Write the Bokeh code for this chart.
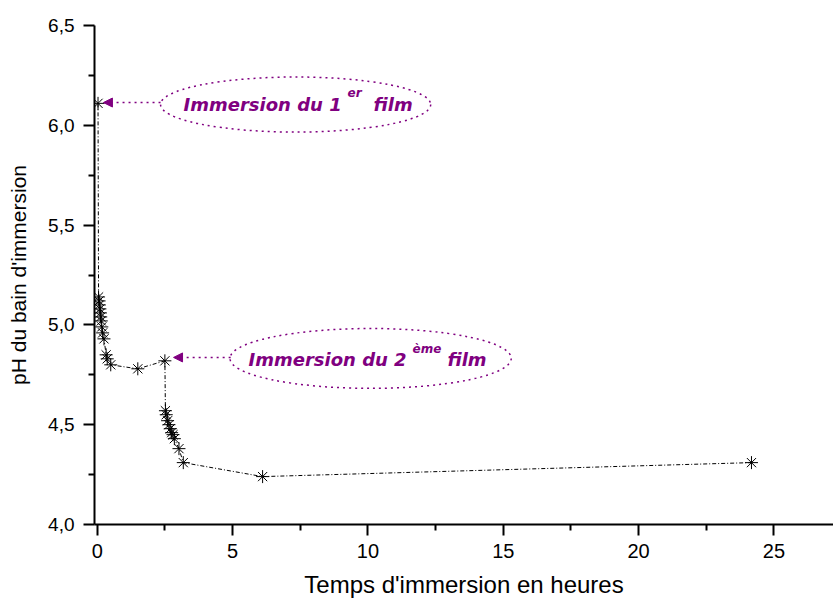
from bokeh.plotting import figure
from bokeh.models import Range1d, FixedTicker, CustomJSTickFormatter, Arrow, NormalHead, Label
from bokeh.embed import file_html
from bokeh.resources import INLINE

# ---- data ----
time_h = [0.03, 0.05, 0.07, 0.08, 0.10, 0.12, 0.13, 0.15, 0.17, 0.20, 0.25,
          0.33, 0.37, 0.50, 1.50, 2.50, 2.52, 2.55, 2.60, 2.65, 2.70, 2.75,
          2.80, 2.85, 3.02, 3.18, 6.11, 24.17]
ph = [6.11, 5.14, 5.12, 5.10, 5.08, 5.06, 5.04, 5.02, 4.99, 4.96, 4.93,
      4.85, 4.83, 4.80, 4.78, 4.82, 4.57, 4.55, 4.52, 4.50, 4.48, 4.46,
      4.45, 4.43, 4.38, 4.31, 4.24, 4.31]

x_ticks = [0, 5, 10, 15, 20, 25]
x_tick_labels = ["0", "5", "10", "15", "20", "25"]
x_minor = [2.5, 7.5, 12.5, 17.5, 22.5]
y_ticks = [4.0, 4.5, 5.0, 5.5, 6.0, 6.5]
y_tick_labels = ["4,0", "4,5", "5,0", "5,5", "6,0", "6,5"]
y_minor = [4.25, 4.75, 5.25, 5.75, 6.25]

# annotations: ellipse (center x, center y, width, height), text, arrow
ann1_ellipse = (7.33, 6.104, 9.98, 0.276)
ann1_text = ["Immersion du 1", "er", "film"]
ann1_text_pos = (3.19, 6.104, 6.164)      # x, baseline y, superscript y
ann1_text_offsets = [0, 164, 190]
ann1_arrow = (2.34, 6.114, 0.23, 6.114)

ann2_ellipse = (10.1, 4.832, 10.39, 0.30)
ann2_text = ["Immersion du 2", "ème", "film"]
ann2_text_pos = (5.59, 4.825, 4.880)
ann2_text_offsets = [0, 164, 199]
ann2_arrow = (4.93, 4.837, 2.82, 4.837)

PURPLE = "#800080"

p = figure(width=833, height=600, output_backend="svg", toolbar_location=None,
           x_range=Range1d(-0.1, 27.2), y_range=Range1d(4.0, 6.5),
           min_border_left=94, min_border_right=0, min_border_top=25,
           min_border_bottom=76)
p.outline_line_color = None
p.xgrid.visible = False
p.ygrid.visible = False
p.background_fill_color = "white"
p.border_fill_color = "white"

# data series
p.line(time_h, ph, line_color="black", line_width=1, line_dash="4 2 1 2")
p.scatter(time_h, ph, marker="asterisk", size=13, line_color="black", line_width=1)

# annotations
for ell, texts, pos, offs, arr in [
    (ann1_ellipse, ann1_text, ann1_text_pos, ann1_text_offsets, ann1_arrow),
    (ann2_ellipse, ann2_text, ann2_text_pos, ann2_text_offsets, ann2_arrow),
]:
    p.ellipse(x=[ell[0]], y=[ell[1]], width=[ell[2]], height=[ell[3]],
              fill_color=None, line_color=PURPLE, line_width=1.5,
              line_dash="2 4")
    for i, (t, off) in enumerate(zip(texts, offs)):
        p.add_layout(Label(x=pos[0], y=pos[2] if i == 1 else pos[1], x_offset=off,
                           text=t, text_color=PURPLE,
                           text_font="DejaVu Sans", text_font_style="bold italic",
                           text_font_size="12px" if i == 1 else "18px",
                           text_baseline="alphabetic", text_align="left"))
    p.add_layout(Arrow(x_start=arr[0], y_start=arr[1], x_end=arr[2], y_end=arr[3],
                       line_color=PURPLE, line_width=1.5, line_dash="2 4",
                       end=NormalHead(size=9, fill_color=PURPLE,
                                      line_color=PURPLE, line_width=1)))

# axes
for ax, ticks, labels, minor in [(p.xaxis[0], x_ticks, x_tick_labels, x_minor),
                                 (p.yaxis[0], y_ticks, y_tick_labels, y_minor)]:
    ax.ticker = FixedTicker(ticks=ticks, minor_ticks=minor)
    ax.formatter = CustomJSTickFormatter(
        args=dict(vals=ticks, labs=labels),
        code="const i = vals.findIndex(v => Math.abs(v - tick) < 1e-9); return i >= 0 ? labs[i] : '';")
    ax.axis_line_width = 2
    ax.axis_line_color = "black"
    ax.major_tick_line_width = 2
    ax.minor_tick_line_width = 2
    ax.major_tick_in = 0
    ax.major_tick_out = 11
    ax.minor_tick_in = 0
    ax.minor_tick_out = 6
    ax.major_label_text_font = "Liberation Sans"
    ax.major_label_text_color = "black"
    ax.axis_label_text_font = "Liberation Sans"
    ax.axis_label_text_font_style = "normal"
    ax.axis_label_text_color = "black"

p.xaxis.axis_label = "Temps d'immersion en heures"
p.yaxis.axis_label = "pH du bain d'immersion"
p.xaxis.major_label_text_font_size = "20px"
p.yaxis.major_label_text_font_size = "19px"
p.xaxis.axis_label_text_font_size = "24px"
p.yaxis.axis_label_text_font_size = "21px"
p.xaxis.major_label_standoff = 8
p.xaxis.axis_label_standoff = 10
p.yaxis.major_label_standoff = 9
p.yaxis.axis_label_standoff = 15

open("out.html", "w").write(file_html(p, INLINE))
